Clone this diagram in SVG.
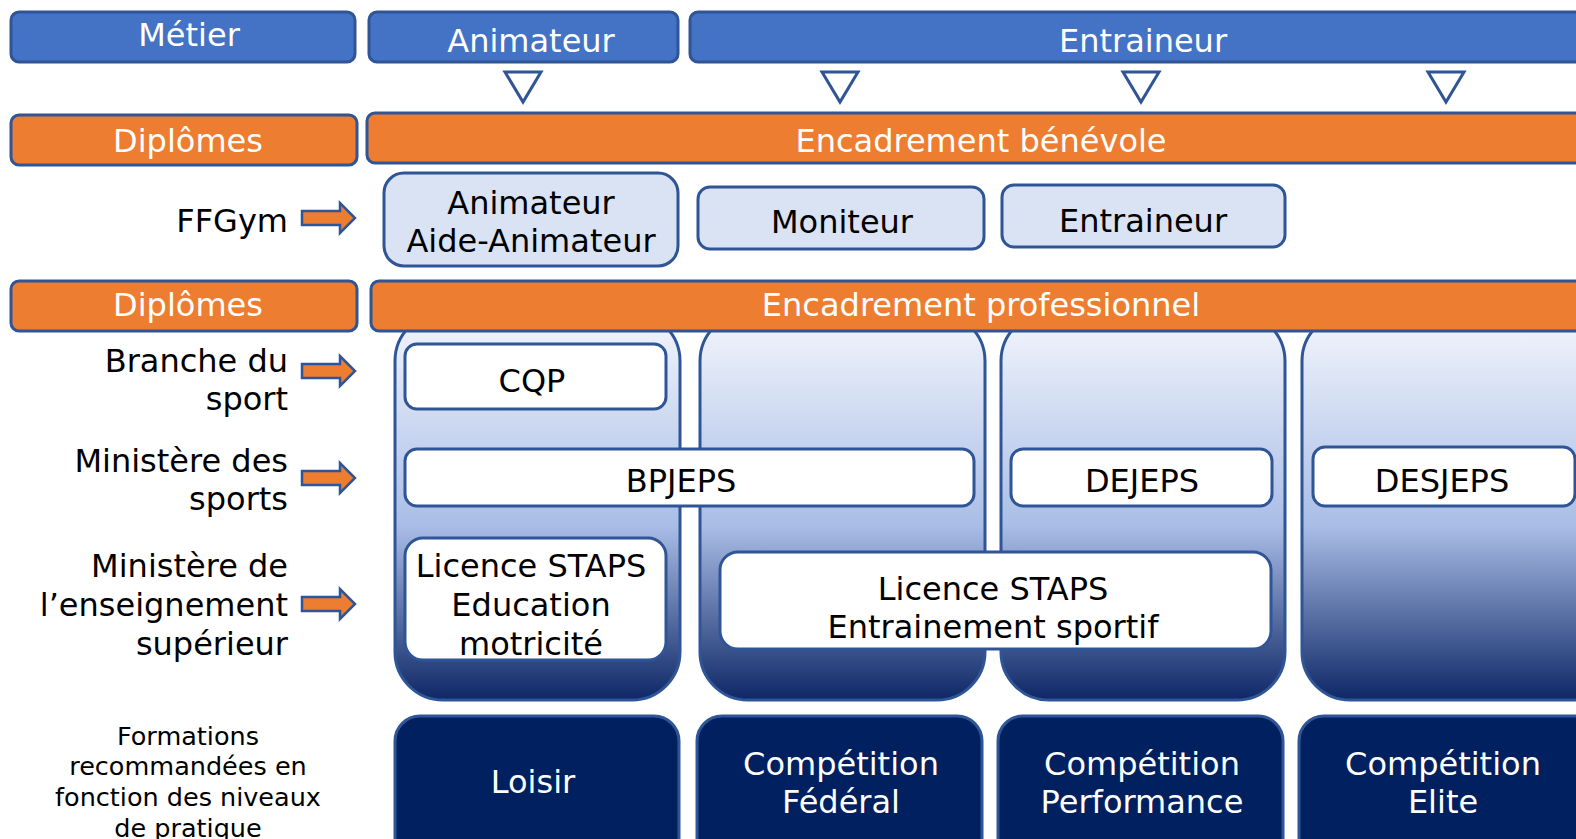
<svg xmlns="http://www.w3.org/2000/svg" width="1576" height="839" viewBox="0 0 1576 839">
<style>
text{font-family:"DejaVu Sans","Verdana",sans-serif;font-size:32px;}
.w{fill:#ffffff;text-anchor:middle;}
.k{fill:#000000;text-anchor:middle;}
.r{fill:#000000;text-anchor:end;}
.sm{font-size:25.5px;}
.blue{fill:#4472C4;stroke:#2F5597;stroke-width:3;}
.orange{fill:#ED7D31;stroke:#2F5597;stroke-width:3;}
.light{fill:#DAE3F3;stroke:#2F5597;stroke-width:3;}
.white{fill:#FFFFFF;stroke:#2F5597;stroke-width:3;}
.col{fill:url(#g);stroke:#2F5597;stroke-width:3;}
.navy{fill:#002060;stroke:#2F5597;stroke-width:3;}
.tri{fill:#FFFFFF;stroke:#2F5597;stroke-width:3;stroke-linejoin:miter;}
.arr{fill:#ED7D31;stroke:#2F5597;stroke-width:2.5;}
</style>
<defs>
<linearGradient id="g" x1="0" y1="0" x2="0" y2="1">
<stop offset="0" stop-color="#F3F6FC"/>
<stop offset="0.55" stop-color="#A9BDE6"/>
<stop offset="1" stop-color="#0E2766"/>
</linearGradient>
</defs>
<rect width="1576" height="839" fill="#ffffff"/>

<g id="metier"><rect class="blue" x="11" y="12" width="344" height="50" rx="8"/><text class="w" x="189" y="46">Métier</text></g>
<g id="animateur-top"><rect class="blue" x="369" y="12" width="309" height="50" rx="8"/><text class="w" x="531" y="52">Animateur</text></g>
<g id="entraineur-top"><rect class="blue" x="690" y="12" width="920" height="50" rx="8"/><text class="w" x="1143" y="52">Entraineur</text></g>

<g id="connectors">
<polygon class="tri" points="505,72 541,72 523,102"/>
<polygon class="tri" points="822,72 858,72 840,102"/>
<polygon class="tri" points="1123,72 1159,72 1141,102"/>
<polygon class="tri" points="1428,72 1464,72 1446,102"/>
<polygon class="arr" points="302,211 340,211 340,203 355,218 340,233 340,225 302,225"/>
<polygon class="arr" points="302,364 340,364 340,356 355,371 340,386 340,378 302,378"/>
<polygon class="arr" points="302,471 340,471 340,463 355,478 340,493 340,485 302,485"/>
<polygon class="arr" points="302,597 340,597 340,589 355,604 340,619 340,611 302,611"/>
</g>

<g id="diplomes1"><rect class="orange" x="11" y="115" width="346" height="50" rx="8"/><text class="w" x="188" y="152">Diplômes</text></g>
<g id="benevole"><rect class="orange" x="367" y="113" width="1240" height="50" rx="8"/><text class="w" x="981" y="152">Encadrement bénévole</text></g>

<g id="ffgym"><text class="r" x="288" y="232">FFGym</text></g>
<g id="animateur-box"><rect class="light" x="384" y="173" width="294" height="93" rx="20"/><text class="k" x="531" y="214">Animateur</text><text class="k" x="531" y="252">Aide-Animateur</text></g>
<g id="moniteur"><rect class="light" x="698" y="187" width="286" height="62" rx="12"/><text class="k" x="842" y="233">Moniteur</text></g>
<g id="entraineur-box"><rect class="light" x="1002" y="185" width="283" height="62" rx="12"/><text class="k" x="1143" y="232">Entraineur</text></g>

<g id="col1"><rect class="col" x="395" y="313" width="285" height="387" rx="48"/></g>
<g id="col2"><rect class="col" x="700" y="313" width="285" height="387" rx="48"/></g>
<g id="col3"><rect class="col" x="1001" y="313" width="284" height="387" rx="48"/></g>
<g id="col4"><rect class="col" x="1302" y="313" width="330" height="387" rx="48"/></g>

<g id="diplomes2"><rect class="orange" x="11" y="281" width="346" height="50" rx="8"/><text class="w" x="188" y="316">Diplômes</text></g>
<g id="professionnel"><rect class="orange" x="371" y="281" width="1240" height="50" rx="8"/><text class="w" x="981" y="316">Encadrement professionnel</text></g>

<g id="branche"><text class="r" x="288" y="372">Branche du</text><text class="r" x="288" y="410">sport</text></g>
<g id="cqp"><rect class="white" x="405" y="344" width="261" height="65" rx="12"/><text class="k" x="532" y="392">CQP</text></g>

<g id="ministere-sports"><text class="r" x="288" y="472">Ministère des</text><text class="r" x="288" y="510">sports</text></g>
<g id="bpjeps"><rect class="white" x="405" y="449" width="569" height="57" rx="12"/><text class="k" x="681" y="492">BPJEPS</text></g>
<g id="dejeps"><rect class="white" x="1011" y="449" width="261" height="57" rx="12"/><text class="k" x="1142" y="492">DEJEPS</text></g>
<g id="desjeps"><rect class="white" x="1313" y="447" width="262" height="59" rx="12"/><text class="k" x="1442" y="492">DESJEPS</text></g>

<g id="ministere-sup"><text class="r" x="288" y="577">Ministère de</text><text class="r" x="288" y="616">l’enseignement</text><text class="r" x="288" y="655">supérieur</text></g>
<g id="licence-edu"><rect class="white" x="405" y="538" width="261" height="122" rx="18"/><text class="k" x="531" y="577">Licence STAPS</text><text class="k" x="531" y="616">Education</text><text class="k" x="531" y="655">motricité</text></g>
<g id="licence-entr"><rect class="white" x="720" y="552" width="551" height="97" rx="18"/><text class="k" x="993" y="600">Licence STAPS</text><text class="k" x="993" y="638">Entrainement sportif</text></g>

<g id="formations"><text class="k sm" x="188" y="745">Formations</text><text class="k sm" x="188" y="775">recommandées en</text><text class="k sm" x="188" y="806">fonction des niveaux</text><text class="k sm" x="188" y="837">de pratique</text></g>
<g id="loisir"><rect class="navy" x="395" y="716" width="284" height="150" rx="25"/><text class="w" x="533" y="793">Loisir</text></g>
<g id="federal"><rect class="navy" x="697" y="716" width="285" height="150" rx="25"/><text class="w" x="841" y="775">Compétition</text><text class="w" x="841" y="813">Fédéral</text></g>
<g id="performance"><rect class="navy" x="998" y="716" width="285" height="150" rx="25"/><text class="w" x="1142" y="775">Compétition</text><text class="w" x="1142" y="813">Performance</text></g>
<g id="elite"><rect class="navy" x="1299" y="716" width="320" height="150" rx="25"/><text class="w" x="1443" y="775">Compétition</text><text class="w" x="1443" y="813">Elite</text></g>
</svg>
